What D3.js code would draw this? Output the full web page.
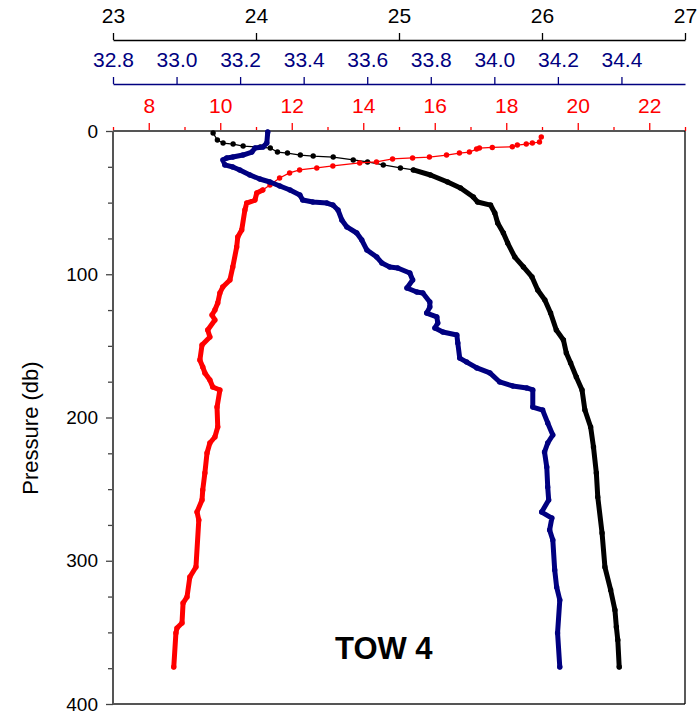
<html>
<head>
<script src="https://d3js.org/d3.v7.min.js"></script>
<style>
  body { margin: 0; background: #fff; }
  text { font-family: "Liberation Sans", Arial, sans-serif; }
</style>
</head>
<body>
<div id="chart"></div>
<script>
// pressure (db) and values
var sigmaP = [1.4, 6.3, 8.4, 9.1, 10.5, 11.2, 11.9, 14.7, 15.4, 16.8, 17.5, 18.2, 20.2, 21.6, 23.7, 25.8, 27.2, 30.7, 35.6, 39.8, 46.1, 49.6, 51.7, 57.2, 64.2, 71.2, 78.2, 88.0, 94.9, 101.9, 111.0, 118.0, 127.1, 138.9, 145.9, 155.0, 162.0, 171.7, 180.8, 194.8, 206.6, 220.6, 238.7, 255.5, 280.6, 304.4, 320.4, 334.4, 346.3, 355.3, 374.2];
var sigmaV = [23.70, 23.73, 23.77, 23.84, 23.91, 24.03, 24.10, 24.15, 24.22, 24.31, 24.40, 24.54, 24.68, 24.78, 24.89, 25.01, 25.10, 25.22, 25.34, 25.43, 25.52, 25.55, 25.64, 25.67, 25.69, 25.73, 25.76, 25.81, 25.87, 25.93, 25.97, 26.02, 26.06, 26.10, 26.15, 26.17, 26.20, 26.24, 26.28, 26.30, 26.34, 26.36, 26.38, 26.39, 26.42, 26.44, 26.48, 26.51, 26.52, 26.53, 26.54];

var salP = [0.7, 8.4, 11.2, 11.9, 14.7, 16.8, 18.2, 18.8, 20.2, 23.7, 25.1, 27.2, 30.7, 33.5, 35.6, 38.4, 41.2, 44.7, 48.2, 49.6, 50.3, 51.7, 55.1, 62.1, 67.0, 71.2, 76.1, 83.1, 88.0, 92.1, 94.9, 95.6, 99.1, 104.0, 109.6, 112.4, 113.1, 119.4, 122.9, 127.1, 129.8, 134.0, 137.5, 140.3, 142.4, 148.0, 158.5, 161.3, 165.4, 168.9, 175.2, 178.0, 179.4, 180.8, 192.7, 194.8, 203.8, 212.2, 217.8, 224.1, 234.6, 248.5, 257.6, 266.0, 270.2, 278.5, 285.5, 306.5, 318.3, 327.4, 350.4, 374.2];
var salV = [33.287, 33.284, 33.272, 33.247, 33.237, 33.209, 33.177, 33.158, 33.146, 33.152, 33.177, 33.199, 33.231, 33.262, 33.294, 33.325, 33.357, 33.388, 33.397, 33.429, 33.473, 33.492, 33.508, 33.520, 33.536, 33.567, 33.583, 33.599, 33.630, 33.646, 33.671, 33.696, 33.734, 33.743, 33.725, 33.756, 33.775, 33.797, 33.797, 33.787, 33.819, 33.822, 33.813, 33.838, 33.882, 33.885, 33.891, 33.913, 33.945, 33.986, 34.017, 34.058, 34.102, 34.121, 34.121, 34.152, 34.168, 34.184, 34.168, 34.158, 34.165, 34.168, 34.171, 34.149, 34.181, 34.174, 34.184, 34.190, 34.196, 34.206, 34.199, 34.206];

var tempP = [4.2, 7.7, 8.4, 9.1, 9.8, 11.0, 11.5, 11.9, 12.6, 14.7, 15.4, 16.8, 18.2, 18.8, 19.5, 21.6, 22.3, 24.4, 25.8, 27.2, 29.3, 32.8, 37.7, 41.2, 43.3, 48.2, 50.3, 55.1, 69.1, 74.0, 81.0, 94.9, 104.0, 108.9, 113.1, 120.1, 125.0, 128.4, 131.9, 138.9, 143.8, 149.4, 159.9, 164.7, 168.9, 173.8, 178.7, 180.8, 192.7, 206.6, 213.6, 217.8, 224.8, 238.7, 250.6, 257.6, 266.0, 271.6, 304.4, 311.3, 325.3, 329.5, 343.5, 347.0, 350.4, 374.2];
var tempV = [18.98, 18.93, 18.73, 18.56, 18.31, 18.17, 17.61, 17.25, 17.17, 16.97, 16.69, 16.33, 15.85, 15.38, 14.82, 14.37, 13.90, 13.15, 12.70, 12.22, 11.94, 11.66, 11.39, 11.19, 11.02, 10.97, 10.74, 10.69, 10.60, 10.49, 10.46, 10.35, 10.27, 10.07, 9.99, 9.93, 9.85, 9.77, 9.85, 9.65, 9.71, 9.49, 9.43, 9.51, 9.57, 9.71, 9.79, 9.99, 9.91, 9.93, 9.85, 9.71, 9.63, 9.57, 9.51, 9.49, 9.35, 9.40, 9.32, 9.15, 9.07, 8.96, 8.93, 8.79, 8.76, 8.70];

var sigmaTicks = [23, 24, 25, 26, 27];
var salTicks = [32.8, 33.0, 33.2, 33.4, 33.6, 33.8, 34.0, 34.2, 34.4];
var tempTicks = [8, 10, 12, 14, 16, 18, 20, 22];
var tempMinor = [7, 9, 11, 13, 15, 17, 19, 21, 23];
var presTicks = [0, 100, 200, 300, 400];
var presMinor = [25, 50, 75, 125, 150, 175, 225, 250, 275, 325, 350, 375];

var W = 698, H = 712;
var mLeft = 113, mRight = 685, mTop = 131, mBottom = 704;
var navy = '#000080', red = '#ff0000';

var svg = d3.select('#chart').append('svg')
    .attr('width', W).attr('height', H);

var y = d3.scaleLinear().domain([0, 400]).range([mTop, mBottom]);
var xS = d3.scaleLinear().domain([23, 27]).range([mLeft, mRight]);
var xB = d3.scaleLinear().domain([32.8, 34.6]).range([mLeft, mRight]);
var xT = d3.scaleLinear().domain([7, 23]).range([mLeft, mRight]);

function styleAxis(g, color, size) {
    g.selectAll('path').attr('stroke', color).attr('stroke-width', 1.3);
    g.selectAll('line').attr('stroke', color).attr('stroke-width', 1.3);
    g.selectAll('text').attr('fill', color)
        .style('font-size', size + 'px')
        .style('font-family', '"Liberation Sans", Arial, sans-serif');
}

// black sigma-t axis
var gS = svg.append('g').attr('transform', 'translate(0,40)')
    .call(d3.axisTop(xS).tickValues(sigmaTicks).tickSize(7).tickSizeOuter(0).tickPadding(10).tickFormat(d3.format('d')));
styleAxis(gS, '#000', 21);

// blue salinity axis
var gB = svg.append('g').attr('transform', 'translate(0,84)')
    .call(d3.axisTop(xB).tickValues(salTicks).tickSize(7).tickSizeOuter(0).tickPadding(10).tickFormat(d3.format('.1f')));
styleAxis(gB, navy, 21);

// red temperature axis (ticks on top frame)
var gTm = svg.append('g').attr('transform', 'translate(0,' + mTop + ')')
    .call(d3.axisTop(xT).tickValues(tempMinor).tickSize(4).tickSizeOuter(0).tickFormat(''));
gTm.select('.domain').remove();
styleAxis(gTm, red, 21);
var gT = svg.append('g').attr('transform', 'translate(0,' + mTop + ')')
    .call(d3.axisTop(xT).tickValues(tempTicks).tickSize(8).tickSizeOuter(0).tickPadding(10).tickFormat(d3.format('d')));
gT.select('.domain').remove();
styleAxis(gT, red, 21);

// pressure axis
var gPm = svg.append('g').attr('transform', 'translate(' + mLeft + ',0)')
    .call(d3.axisLeft(y).tickValues(presMinor).tickSize(5).tickSizeOuter(0).tickFormat(''));
gPm.select('.domain').remove();
styleAxis(gPm, '#444', 19);
var gP = svg.append('g').attr('transform', 'translate(' + mLeft + ',0)')
    .call(d3.axisLeft(y).tickValues(presTicks).tickSize(7).tickSizeOuter(0).tickPadding(8));
gP.select('.domain').remove();
styleAxis(gP, '#444', 19);
gP.selectAll('text').attr('fill', '#000');

// frame
svg.append('line').attr('x1', mLeft).attr('x2', mRight).attr('y1', mTop).attr('y2', mTop)
    .attr('stroke', '#555').attr('stroke-width', 2);
svg.append('line').attr('x1', mLeft).attr('x2', mRight).attr('y1', mBottom).attr('y2', mBottom)
    .attr('stroke', '#555').attr('stroke-width', 2);
svg.append('line').attr('x1', mLeft).attr('x2', mLeft).attr('y1', mTop).attr('y2', mBottom)
    .attr('stroke', '#555').attr('stroke-width', 2);
svg.append('line').attr('x1', mRight).attr('x2', mRight).attr('y1', mTop).attr('y2', mBottom)
    .attr('stroke', '#000').attr('stroke-width', 1.3);

svg.append('text')
    .attr('transform', 'translate(38,' + 428 + ') rotate(-90)')
    .attr('text-anchor', 'middle')
    .style('font-size', '22px')
    .text('Pressure (db)');

// profiles
function profile(P, V, x, color, thickFrom) {
    var pts = P.map(function(p, i) { return [x(V[i]), y(p)]; });
    var line = d3.line();
    svg.append('path').attr('d', line(pts))
        .attr('fill', 'none').attr('stroke', color).attr('stroke-width', 1.3);
    var deep = pts.filter(function(d, i) { return P[i] >= thickFrom; });
    svg.append('path').attr('d', line(deep))
        .attr('fill', 'none').attr('stroke', color).attr('stroke-width', 5)
        .attr('stroke-linejoin', 'round').attr('stroke-linecap', 'round');
    svg.append('g').selectAll('circle').data(pts).join('circle')
        .attr('cx', function(d) { return d[0]; })
        .attr('cy', function(d) { return d[1]; })
        .attr('r', 2.7)
        .attr('fill', color);
}

profile(sigmaP, sigmaV, xS, '#000', 26);
profile(tempP, tempV, xT, red, 40);
profile(salP, salV, xB, navy, 0);

svg.append('text')
    .attr('x', 335).attr('y', 659)
    .style('font-size', '31px').style('font-weight', 'bold')
    .text('TOW 4');
</script>
</body>
</html>
